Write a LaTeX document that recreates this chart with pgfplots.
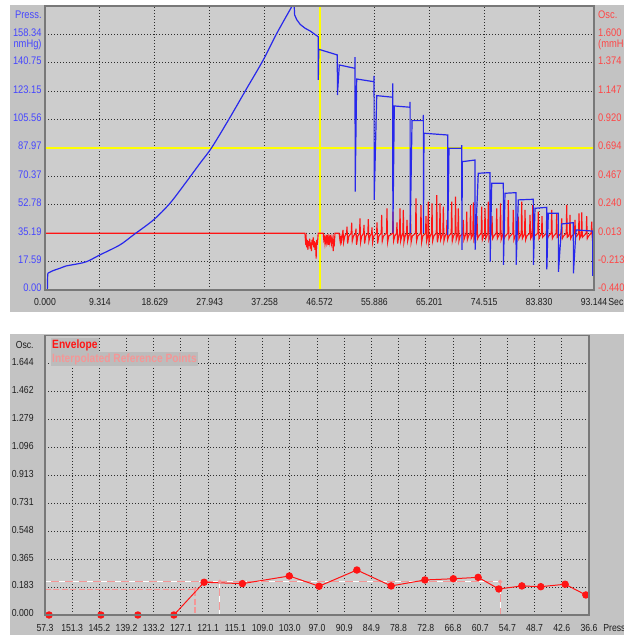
\documentclass[border=0pt]{standalone}
\usepackage{pgfplots}
\pgfplotsset{compat=1.18}
\usepackage{fontspec}
\setmainfont{Liberation Sans}[FakeStretch=0.85]

\definecolor{panel}{RGB}{195,195,195}
\definecolor{plotbg}{RGB}{205,205,205}
\definecolor{frame}{RGB}{120,120,120}
\definecolor{gridc}{RGB}{45,45,45}
\definecolor{pblue}{RGB}{40,40,235}
\definecolor{lblue}{RGB}{70,70,255}
\definecolor{ored}{RGB}{255,20,20}
\definecolor{lred}{RGB}{255,70,70}
\definecolor{pinkref}{RGB}{245,150,150}
\definecolor{txt}{RGB}{30,30,30}
\definecolor{legbg}{RGB}{188,188,188}
\definecolor{cursor}{RGB}{255,255,0}

\newcommand{\fs}{\fontsize{5.1}{6}\selectfont}
\newcommand{\fl}{\fontsize{5.5}{6}\selectfont}

\pgfplotsset{panelax/.style={scale only axis, anchor=south west,
  axis line style={draw=none}, tick style={draw=none},
  grid style={gridc, line width=0.5pt, dash pattern=on 0.5pt off 1pt}}}

\begin{document}
\begin{tikzpicture}[x=1pt,y=1pt]
\path[use as bounding box] (0,0) rectangle (312,317.5);
\fill[white] (0,0) rectangle (312,317.5);
\fill[panel] (5,161.5) rectangle (312,315);
\fill[panel] (5,0) rectangle (312,150.5);
\fill[plotbg] (22.5,172.5) rectangle (297,314.5);
\fill[plotbg] (22.5,10) rectangle (294.5,149.75);

% ---------- top panel: grid + pressure scale ----------
\begin{axis}[panelax, at={(22.5pt,172.5pt)}, width=274.5pt, height=142pt,
  xmin=0, xmax=93.144, ymin=0, ymax=175.93,
  xtick={0,9.3144,18.6288,27.9432,37.2576,46.572,55.8864,65.2008,74.5152,83.8296,93.144},
  xticklabels={0.000,9.314,18.629,27.943,37.258,46.572,55.886,65.201,74.515,83.830,93.144},
  ytick={0,17.593,35.186,52.779,70.372,87.965,105.558,123.151,140.744,158.337},
  yticklabels={0.00,17.59,35.19,52.78,70.37,87.97,105.56,123.15,140.75,158.34},
  xmajorgrids, ymajorgrids,
  xticklabel style={font=\fs, text=txt, anchor=center, inner sep=0pt, yshift=-6.2pt},
  yticklabel style={font=\fl, text=lblue, anchor=east, inner sep=0pt, xshift=-1.5pt, yshift=0.9pt}]
\addplot[cursor, line width=1pt] coordinates {(46.572,0) (46.572,175.93)};
\addplot[cursor, line width=0.8pt] coordinates {(0,87.965) (93.144,87.965)};
\end{axis}

% ---------- top panel: oscillation signal ----------
\begin{axis}[panelax, at={(22.5pt,172.5pt)}, width=274.5pt, height=142pt,
  xmin=0, xmax=93.144, ymin=-0.44, ymax=1.82667, xtick=\empty,
  ytick={-0.44,-0.21333,0.01333,0.24,0.46667,0.69333,0.92,1.14667,1.37333,1.6},
  yticklabels={-0.440,-0.213,0.013,0.240,0.467,0.694,0.920,1.147,1.374,1.600},
  yticklabel pos=right,
  yticklabel style={font=\fl, text=lred, anchor=west, inner sep=0pt, xshift=1.85pt, yshift=0.9pt}]
\addplot[ored, line width=0.55pt] coordinates {
(0,0.013) (44.10,0.013) (44.2,-0.05) (44.3,-0.02) (44.4,-0.10) (44.5,-0.04) (44.6,-0.12)
(44.7,-0.05) (44.8,-0.09) (44.9,-0.03) (45.0,-0.11) (45.1,-0.06) (45.2,-0.13) (45.3,-0.04)
(45.4,-0.08) (45.5,-0.02) (45.6,-0.10) (45.7,-0.05) (45.8,-0.12) (45.9,-0.06) (46.0,-0.19)
(46.1,-0.04) (46.2,-0.08) (46.35,0.013) (47.2,0.013) (47.3,-0.04) (47.4,-0.02) (47.5,-0.07)
(47.6,-0.03) (47.7,-0.06) (47.8,0.0) (47.9,-0.05) (48.0,-0.02) (48.1,-0.08) (48.2,-0.03)
(48.3,-0.06) (48.4,0.0) (48.5,-0.04) (48.6,-0.07) (48.7,-0.02) (48.8,-0.05) (48.9,-0.13)
(49.0,-0.03) (49.1,-0.06) (49.2,0.013) (49.9,0.013) (50.0,-0.03) (50.1,-0.06) (50.2,-0.02) (50.3,-0.05)
(50.48,0.013)(50.56,0.04)(50.66,-0.06)(50.86,-0.01)
(51.16,0.013)(51.24,0.065)(51.34,-0.07)(51.54,-0.01)
(51.95,0.013)(52.03,0.097)(52.13,-0.05)(52.33,-0.01)
(52.68,0.013)(52.76,0.05)(52.86,-0.08)(53.06,-0.01)
(53.36,0.013)(53.44,0.132)(53.54,-0.06)(53.74,-0.01)
(54.04,0.013)(54.12,0.08)(54.22,-0.07)(54.42,-0.01)
(54.77,0.013)(54.85,0.125)(54.95,-0.05)(55.15,-0.01)
(55.40,0.013)(55.48,0.06)(55.58,-0.06)(55.78,-0.01)
(56.25,0.013)(56.33,0.10)(56.43,-0.07)(56.63,-0.01)
(57.04,0.013)(57.12,0.159)(57.22,-0.05)(57.42,-0.01)
(57.94,0.013)(58.02,0.212)(58.12,-0.06)(58.32,-0.01)
(58.96,0.013)(59.04,0.185)(59.14,-0.05)(59.34,-0.01)
(59.64,0.013)(59.72,0.10)(59.82,-0.07)(60.02,-0.01)
(60.15,0.013)(60.23,0.212)(60.33,-0.05)(60.53,-0.01)
(60.71,0.013)(60.79,0.20)(60.89,-0.06)(61.09,-0.01)
(61.34,0.013)(61.42,0.12)(61.52,-0.05)(61.72,-0.01)
(61.93,0.013)(62.01,0.159)(62.11,-0.06)(62.31,-0.01)
(62.86,0.013)(62.94,0.292)(63.04,-0.05)(63.24,-0.01)
(63.71,0.013)(63.79,0.238)(63.89,-0.06)(64.09,-0.01)
(64.56,0.013)(64.64,0.15)(64.74,-0.05)(64.94,-0.01)
(64.95,0.013)(65.03,0.265)(65.13,-0.06)(65.33,-0.01)
(65.58,0.013)(65.66,0.252)(65.76,-0.05)(65.96,-0.01)
(66.38,0.013)(66.46,0.318)(66.56,-0.06)(66.76,-0.01)
(66.94,0.013)(67.02,0.252)(67.12,-0.04)(67.32,-0.01)
(67.50,0.013)(67.58,0.225)(67.68,-0.05)(67.88,-0.01)
(68.12,0.013)(68.20,0.12)(68.30,-0.04)(68.50,-0.01)
(68.92,0.013)(69.00,0.265)(69.10,-0.05)(69.30,-0.01)
(69.57,0.013)(69.65,0.305)(69.75,-0.04)(69.95,-0.01)
(70.04,0.013)(70.12,0.212)(70.22,-0.05)(70.42,-0.01)
(70.89,0.013)(70.97,0.12)(71.07,-0.04)(71.27,-0.01)
(71.47,0.013)(71.55,0.185)(71.65,-0.04)(71.85,-0.01)
(72.11,0.013)(72.19,0.238)(72.29,-0.03)(72.49,-0.01)
(72.59,0.013)(72.67,0.26)(72.77,-0.04)(72.97,-0.01)
(73.21,0.013)(73.29,0.15)(73.39,-0.03)(73.59,-0.01)
(74.01,0.013)(74.09,0.225)(74.19,-0.04)(74.39,-0.01)
(74.57,0.013)(74.65,0.212)(74.75,-0.03)(74.95,-0.01)
(75.13,0.013)(75.21,0.265)(75.31,-0.04)(75.51,-0.01)
(75.76,0.013)(75.84,0.15)(75.94,-0.03)(76.14,-0.01)
(76.56,0.013)(76.64,0.212)(76.74,-0.03)(76.94,-0.01)
(77.20,0.013)(77.28,0.252)(77.38,-0.04)(77.58,-0.01)
(77.71,0.013)(77.79,0.20)(77.89,-0.03)(78.09,-0.01)
(78.52,0.013)(78.60,0.278)(78.70,-0.03)(78.90,-0.01)
(79.37,0.013)(79.45,0.20)(79.55,-0.04)(79.75,-0.01)
(80.22,0.013)(80.30,0.145)(80.40,-0.03)(80.60,-0.01)
(80.80,0.013)(80.88,0.265)(80.98,-0.03)(81.18,-0.01)
(81.36,0.013)(81.44,0.20)(81.54,-0.04)(81.74,-0.01)
(82.21,0.013)(82.29,0.16)(82.39,-0.03)(82.59,-0.01)
(82.66,0.013)(82.74,0.238)(82.84,-0.03)(83.04,-0.01)
(83.61,0.013)(83.69,0.185)(83.79,-0.03)(83.99,-0.01)
(84.24,0.013)(84.32,0.15)(84.42,-0.02)(84.62,-0.01)
(85.04,0.013)(85.12,0.172)(85.22,-0.03)(85.42,-0.01)
(85.89,0.013)(85.97,0.20)(86.07,-0.03)(86.27,-0.01)
(86.73,0.013)(86.81,0.17)(86.91,-0.02)(87.11,-0.01)
(87.58,0.013)(87.66,0.132)(87.76,-0.03)(87.96,-0.01)
(88.43,0.013)(88.51,0.24)(88.61,-0.02)(88.81,-0.01)
(88.99,0.013)(89.07,0.16)(89.17,-0.03)(89.37,-0.01)
(89.84,0.013)(89.92,0.12)(90.02,-0.02)(90.22,-0.01)
(90.52,0.013)(90.60,0.172)(90.70,-0.03)(90.90,-0.01)
(90.98,0.013)(91.06,0.18)(91.16,-0.02)(91.36,-0.01)
(91.82,0.013)(91.90,0.15)(92.00,-0.03)(92.20,-0.01)
(92.67,0.013)(92.75,0.105)(92.85,-0.02)(93.05,0.013)
(93.144,0.013)};
\end{axis}

% ---------- top panel: pressure curve ----------
\begin{axis}[panelax, at={(22.5pt,172.5pt)}, width=274.5pt, height=142pt,
  xmin=0, xmax=93.144, ymin=0, ymax=175.93, hide axis]
\addplot[pblue, line width=0.6pt] coordinates {(0.40,0) (0.46,10.3)};
\addplot[pblue, line width=0.6pt, smooth, tension=0.5] coordinates {
(0.46,10.3) (1.3,11.9) (2.5,13.4) (3.6,14.9) (5.4,16.1) (7.1,17.6) (9.3,21.7)
(12.7,27.9) (15.0,34.1) (18.4,43.4) (21.2,53.7) (24.0,67.1) (26.3,78.5) (28.3,88.3)
(31.4,107.0) (34.2,124.7) (37.0,142.3) (39.3,158.8) (42.25,178.0)};
\addplot[pblue, line width=0.6pt] coordinates {
(42.25,178.0) (42.35,170.4)
(42.7,167.5) (43.3,164.5) (44.1,162.2) (45.0,160.4) (46.35,156.9) (46.37,130.1)
(46.45,149.1) (49.59,145.6) (49.61,120.8) (49.93,139.4) (52.59,137.3) (52.60,144.3)
(52.62,60.9) (52.88,130.7) (55.82,129.0) (55.83,132.6) (55.85,55.8) (56.28,120.4)
(58.99,119.4) (59.00,128.0) (59.02,35.3) (59.26,114.0) (61.93,113.2) (61.94,116.6)
(61.96,35.3) (62.27,104.9) (64.18,104.9) (64.19,108.4) (64.21,35.3) (64.30,97.1)
(68.32,96.0) (68.34,34.1) (68.54,87.8) (70.70,87.8) (70.71,89.8) (70.73,24.8)
(70.80,79.5) (72.95,80.5) (72.97,24.8) (73.51,72.3) (75.50,72.7) (75.52,17.5)
(75.79,66.1) (77.76,66.1) (77.78,15.5) (78.04,59.9) (79.91,60.3) (79.93,15.5)
(80.30,55.8) (82.85,56.2) (82.87,15.5) (83.13,50.6) (85.12,51.2) (85.14,12.8)
(85.39,47.5) (87.09,47.5) (87.11,11.3) (87.66,40.9) (89.63,41.7) (89.65,10.3)
(90.09,37.2) (92.92,36.5) (92.94,8.7)};
\end{axis}
\draw[frame, line width=0.6pt] (22.5,172.5) rectangle (297,314.5);

\node[anchor=east, text=lblue, font=\fl, inner sep=0pt] at (21,310) {Press.};
\node[anchor=east, text=lblue, font=\fl, inner sep=0pt] at (21,295) {nmHg)};
\node[anchor=west, text=lred, font=\fl, inner sep=0pt] at (298.9,310) {Osc.};
\node[anchor=west, text=lred, font=\fl, inner sep=0pt] at (298.9,295) {(mmHg)};
\node[anchor=west, text=txt, font=\fs, inner sep=0pt] at (304,166.3) {Sec.};

% ---------- bottom panel ----------
\begin{axis}[panelax, at={(22.5pt,10pt)}, width=272pt, height=139.75pt,
  xmin=36.6, xmax=157.3, x dir=reverse, ymin=0, ymax=1.82667, clip=false,
  xtick={157.3,151.265,145.23,139.195,133.16,127.125,121.09,115.055,109.02,102.985,96.95,90.915,84.88,78.845,72.81,66.775,60.74,54.705,48.67,42.635,36.6},
  xticklabels={57.3,151.3,145.2,139.2,133.2,127.1,121.1,115.1,109.0,103.0,97.0,90.9,84.9,78.8,72.8,66.8,60.7,54.7,48.7,42.6,36.6},
  ytick={0,0.18267,0.36533,0.548,0.73067,0.91333,1.096,1.27867,1.46133,1.644},
  yticklabels={0.000,0.183,0.365,0.548,0.731,0.913,1.096,1.279,1.462,1.644},
  xmajorgrids, ymajorgrids,
  xticklabel style={font=\fs, text=txt, anchor=center, inner sep=0pt, yshift=-6.5pt},
  yticklabel style={font=\fs, text=txt, anchor=east, inner sep=0pt, xshift=-5.5pt, yshift=0.8pt}]
\addplot[pinkref, line width=0.6pt, dash pattern=on 3pt off 1.2pt] coordinates {(157.3,0.168) (124.0,0.168) (124.0,0)};
\addplot[pinkref, line width=0.6pt] coordinates {(157.3,0.218) (56.3,0.218) (56.3,0)};
\addplot[white, line width=0.6pt, dash pattern=on 3pt off 4pt] coordinates {(157.3,0.218) (56.3,0.218) (56.3,0)};
\addplot[pinkref, line width=0.6pt] coordinates {(118.5,0.218) (118.5,0)};
\addplot[white, line width=0.6pt, dash pattern=on 3pt off 4pt] coordinates {(118.5,0.218) (118.5,0)};
\addplot[only marks, mark=*, mark size=0.8pt, pinkref] coordinates {(124.0,0.168) (118.5,0.218) (56.3,0.218)};
\addplot[ored, line width=0.5pt, mark=*, mark size=1.6pt, mark options={fill=ored, draw=ored}] coordinates {
(156.4,0) (144.9,0) (136.7,0) (128.7,0) (122.0,0.214) (113.5,0.205) (103.1,0.255)
(96.5,0.188) (88.1,0.294) (80.5,0.190) (73.0,0.229) (66.7,0.237) (61.2,0.246)
(56.6,0.170) (51.5,0.190) (47.3,0.185) (41.9,0.201) (37.3,0.131)};
\end{axis}
\draw[frame, line width=0.6pt] (22.5,10) rectangle (294.5,149.75);

\node[anchor=east, text=txt, font=\fs, inner sep=0pt] at (17,145) {Osc.};
\node[anchor=west, text=txt, font=\fs, inner sep=0pt] at (301.5,3.5) {Press.};
\node[anchor=west, fill=legbg, inner sep=0.6pt, text=ored, font=\bfseries\fontsize{6}{7}\selectfont] at (25.3,145) {Envelope};
\node[anchor=west, fill=legbg, inner sep=0.6pt, text=pinkref, font=\bfseries\fontsize{6}{7}\selectfont] at (25.3,138) {Interpolated Reference Points};
\end{tikzpicture}
\end{document}
